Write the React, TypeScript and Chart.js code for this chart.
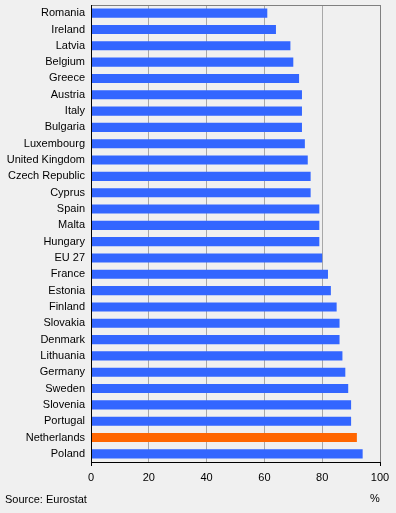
import React, { useEffect, useRef } from "react";
import { Chart, registerables } from "chart.js";

Chart.register(...registerables);

const countries = [
  "Romania", "Ireland", "Latvia", "Belgium", "Greece", "Austria", "Italy", "Bulgaria",
  "Luxembourg", "United Kingdom", "Czech Republic", "Cyprus", "Spain", "Malta", "Hungary",
  "EU 27", "France", "Estonia", "Finland", "Slovakia", "Denmark", "Lithuania", "Germany",
  "Sweden", "Slovenia", "Portugal", "Netherlands", "Poland",
];
const values = [
  61, 64, 69, 70, 72, 73, 73, 73, 74, 75, 76, 76, 79, 79, 79, 80, 82, 83, 85, 86, 86,
  87, 88, 89, 90, 90, 92, 94,
];
const highlight = "Netherlands";
const xTicks = [0, 20, 40, 60, 80, 100];

const FONT = "'Liberation Sans', Arial, sans-serif";

export default function App() {
  const ref = useRef<HTMLCanvasElement | null>(null);

  useEffect(() => {
    if (!ref.current) return;
    const borderPlugin = {
      id: "frame",
      afterDraw(chart: any) {
        const { ctx, chartArea: a } = chart;
        ctx.save();
        ctx.lineWidth = 1;
        ctx.strokeStyle = "#808080";
        ctx.beginPath();
        ctx.moveTo(a.left, a.top + 0.5);
        ctx.lineTo(a.right + 0.5, a.top + 0.5);
        ctx.lineTo(a.right + 0.5, a.bottom);
        ctx.stroke();
        ctx.strokeStyle = "#000000";
        ctx.beginPath();
        ctx.moveTo(a.left + 0.5, a.top);
        ctx.lineTo(a.left + 0.5, a.bottom + 4);
        ctx.moveTo(a.left, a.bottom + 0.5);
        ctx.lineTo(a.right + 1, a.bottom + 0.5);
        ctx.moveTo(a.right + 0.5, a.bottom);
        ctx.lineTo(a.right + 0.5, a.bottom + 4);
        ctx.stroke();
        ctx.restore();
      },
    };
    const chart = new Chart(ref.current, {
      type: "bar",
      data: {
        labels: countries,
        datasets: [
          {
            data: values,
            backgroundColor: countries.map((c) => (c === highlight ? "#ff6600" : "#3366ff")),
            barPercentage: 0.56,
            categoryPercentage: 1,
          },
        ],
      },
      plugins: [borderPlugin],
      options: {
        indexAxis: "y",
        animation: false,
        responsive: false,
        maintainAspectRatio: false,
        layout: { padding: { left: 0, right: 16, top: 5, bottom: 0 } },
        plugins: { legend: { display: false }, tooltip: { enabled: false } },
        scales: {
          x: {
            min: 0,
            max: 100,
            afterBuildTicks: (s: any) => {
              s.ticks = xTicks.map((v) => ({ value: v }));
            },
            afterFit: (s: any) => {
              s.height = 51;
              s.paddingLeft = 0;
              s.paddingRight = 0;
            },
            grid: {
              color: (ctx: any) => (ctx.tick && ctx.tick.value === 100 ? "#808080" : "#a8a8a8"),
              drawTicks: false,
            },
            border: { display: false },
            ticks: {
              color: "#000",
              font: { family: FONT, size: 11 },
              padding: 9,
            },
          },
          y: {
            afterFit: (s: any) => {
              s.width = 91;
              s.paddingTop = 0;
              s.paddingBottom = 0;
            },
            grid: { display: false, drawTicks: false },
            border: { display: false },
            ticks: {
              color: "#000",
              font: { family: FONT, size: 11 },
              padding: 6,
              autoSkip: false,
            },
          },
        },
      },
    } as any);
    return () => chart.destroy();
  }, []);

  return (
    <div
      style={{
        position: "fixed",
        left: 0,
        top: 0,
        width: 396,
        height: 513,
        background: "#f0f0f0",
        fontFamily: FONT,
      }}
    >
      <canvas ref={ref} width={396} height={513} style={{ position: "absolute", left: 0, top: 0 }} />
      <div style={{ position: "absolute", left: 5, top: 493, fontSize: 11, color: "#000" }}>
        Source: Eurostat
      </div>
      <div style={{ position: "absolute", left: 370, top: 492, fontSize: 11, color: "#000" }}>%</div>
    </div>
  );
}
